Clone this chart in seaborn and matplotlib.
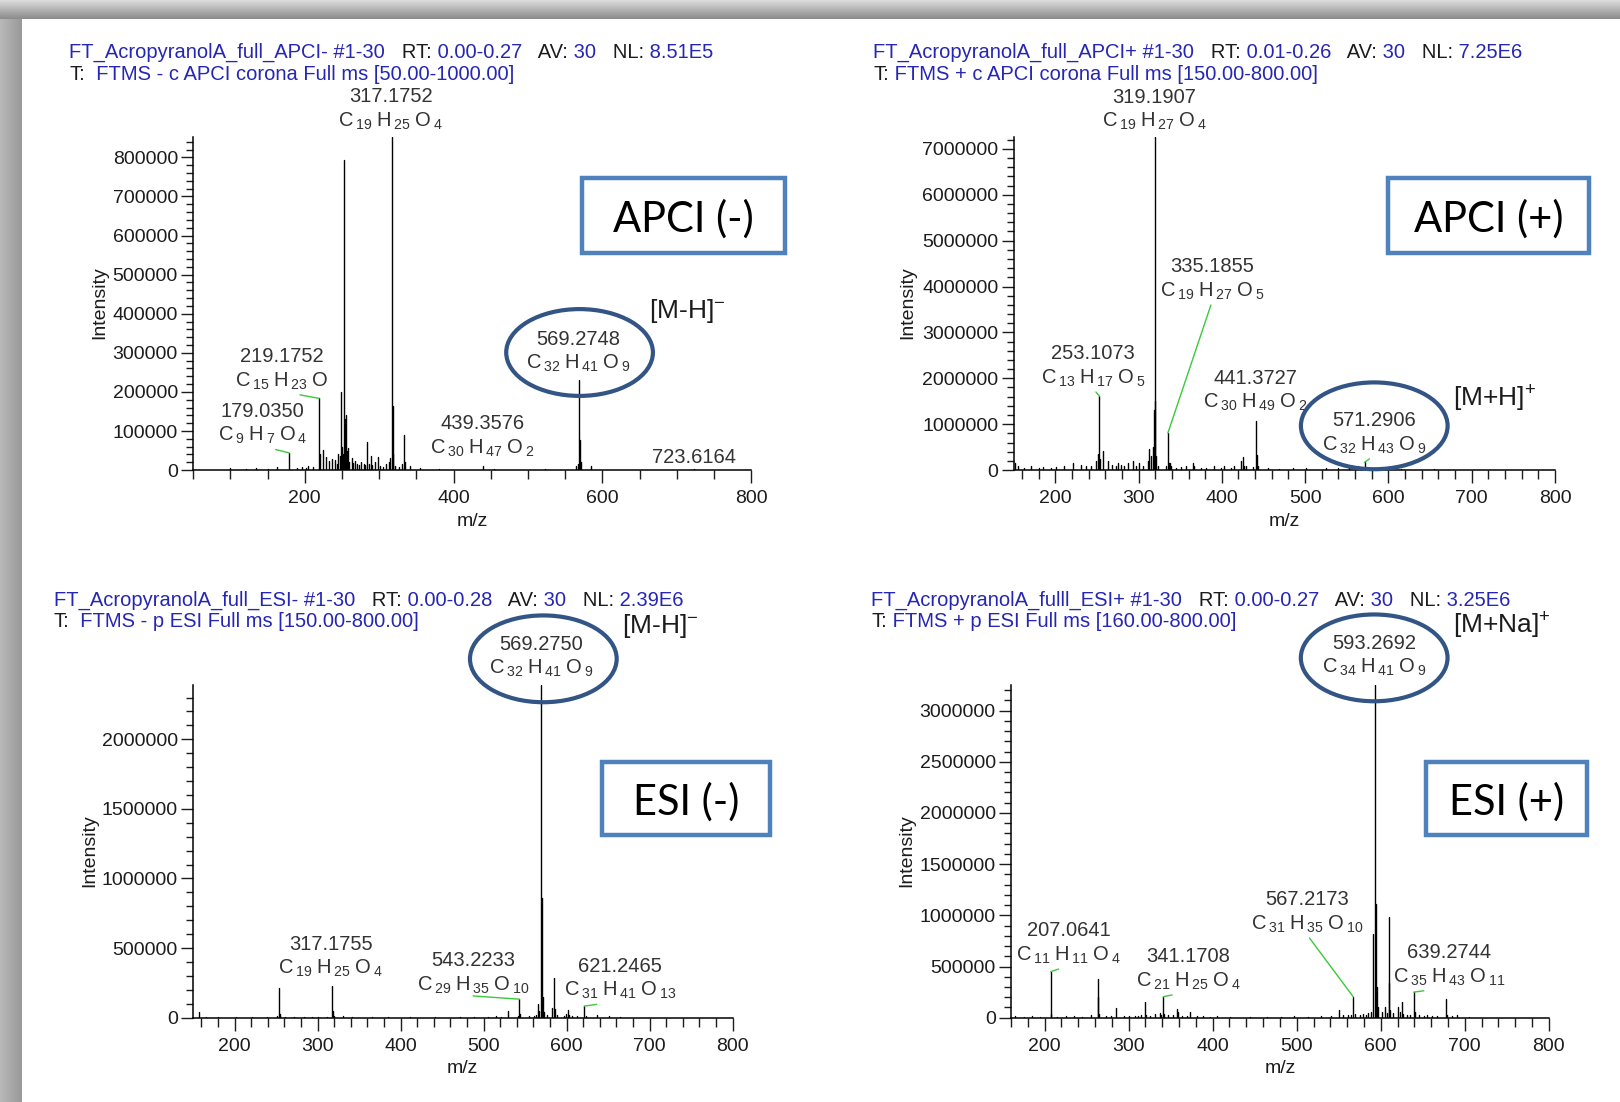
import re
import numpy as np
import pandas as pd
import seaborn as sns
import matplotlib.pyplot as plt
from matplotlib.patches import Ellipse, Rectangle
from matplotlib.ticker import MultipleLocator, ScalarFormatter
from matplotlib.transforms import ScaledTranslation

# ---- spectra (m/z, intensity) ----
apci_neg_mz = [100, 121, 135, 150, 163, 179.035, 190, 196, 201, 205,
               211, 219.1752, 220.18, 225, 229, 233, 237, 241, 243, 245,
               247, 249.15, 250.15, 251.15, 253.16, 254.16, 255.17, 256.17, 258, 260,
               263, 265, 267, 270, 273, 276, 279, 281, 283.17, 286,
               289, 291, 295, 299, 301, 305, 309, 313, 315.16, 317.1752,
               318.18, 319.18, 321, 327, 331, 333.17, 335, 341, 355, 381,
               439.3576, 455, 523, 565, 567, 569.2748, 570.28, 571.28, 585, 723.6164]
apci_neg_int = [5000, 3000, 5000, 3000, 8000, 44000, 5000, 8000, 6000, 10000,
                8000, 183500, 40000, 52000, 33000, 22000, 28000, 25000, 15000, 42000,
                35000, 201000, 60000, 40000, 793000, 130000, 141000, 50000, 56000, 20000,
                30000, 18000, 22000, 15000, 12000, 20000, 15000, 12000, 73000, 15000,
                36000, 12000, 20000, 33000, 10000, 8000, 15000, 20000, 30000, 851000,
                165000, 40000, 10000, 8000, 15000, 91000, 20000, 10000, 6000, 4000,
                10000, 3000, 3000, 10000, 15000, 231000, 78000, 20000, 10000, 2000]

apci_pos_mz = [152, 155, 163, 171, 180, 185, 195, 201, 211, 221,
               231, 237, 243, 249, 251, 253.1073, 254.11, 257, 263, 268,
               273, 275, 279, 283, 287, 293, 297, 301, 305, 311,
               313, 315, 317.18, 318.18, 319.1907, 320.19, 321.2, 323, 333, 335.1855,
               336.19, 337.19, 339, 345, 351, 357, 365, 367, 375, 381,
               391, 399, 403, 411, 415, 423, 425, 427, 429, 437,
               441.3727, 442.38, 443.38, 455, 469, 485, 501, 525, 539, 553,
               563, 571.2906, 573, 589, 615, 655]
apci_pos_int = [150000, 100000, 50000, 80000, 50000, 60000, 40000, 70000, 100000, 150000,
                120000, 80000, 100000, 200000, 360000, 1610000, 250000, 410000, 200000, 120000,
                100000, 150000, 120000, 100000, 150000, 200000, 100000, 150000, 100000, 200000,
                450000, 300000, 500000, 1320000, 7250000, 1510000, 300000, 100000, 100000, 806000,
                150000, 150000, 100000, 50000, 60000, 100000, 150000, 100000, 50000, 40000,
                80000, 50000, 100000, 50000, 100000, 200000, 280000, 100000, 80000, 60000,
                1070000, 320000, 100000, 40000, 30000, 50000, 40000, 50000, 40000, 60000,
                80000, 170000, 50000, 40000, 30000, 20000]

esi_neg_mz = [157, 165, 180, 201, 221, 239, 251, 253.1, 254.1, 255.1,
              261, 271, 283, 293, 301, 311, 317.1755, 318.18, 319.18, 331,
              341, 365, 385, 411, 441, 471, 489, 505, 515, 521,
              529, 541, 543.2233, 544.23, 555, 561, 563, 565, 567, 569.275,
              570.28, 571.28, 573, 577, 583, 585.27, 586.27, 589, 597, 599,
              601.27, 603, 607, 613, 621.2465, 623, 637, 651, 665]
esi_neg_int = [40000, 8000, 6000, 5000, 5000, 8000, 15000, 214000, 30000, 10000,
               8000, 5000, 8000, 6000, 5000, 8000, 231000, 50000, 10000, 15000,
               5000, 4000, 4000, 3000, 3000, 5000, 6000, 8000, 10000, 8000,
               50000, 15000, 133000, 30000, 10000, 15000, 20000, 96000, 50000, 2390000,
               863000, 150000, 40000, 20000, 70000, 284000, 60000, 20000, 15000, 30000,
               58000, 20000, 10000, 15000, 83000, 15000, 20000, 10000, 5000]

esi_pos_mz = [165, 175, 185, 195, 207.0641, 208.07, 215, 225, 235, 245,
              255, 263.1, 264.1, 265.1, 273, 279, 285, 295, 301, 307,
              311, 315, 319.1, 320.1, 325, 331, 337, 339, 341.1708, 342.17,
              347, 353, 357.15, 358.15, 363, 369, 373.1, 381, 389, 397,
              405, 421, 445, 465, 481, 497, 513, 529, 541, 550,
              555, 561, 565, 567.2173, 569, 575, 579, 583, 585, 589,
              591.27, 593.2692, 594.27, 595.27, 597, 601, 605, 607, 609.24, 610.25,
              611, 615, 620, 623, 625.2, 627, 631, 635, 639.2744, 641,
              645, 651, 655, 661, 667, 677.2, 679, 685, 691, 705]
esi_pos_int = [20000, 10000, 15000, 10000, 449000, 40000, 10000, 15000, 20000, 10000,
               30000, 377000, 200000, 40000, 15000, 20000, 96000, 15000, 20000, 15000,
               20000, 30000, 154000, 30000, 15000, 40000, 50000, 30000, 205000, 40000,
               25000, 30000, 86000, 60000, 20000, 15000, 55000, 15000, 20000, 10000,
               15000, 10000, 10000, 10000, 10000, 12000, 10000, 15000, 20000, 79000,
               30000, 25000, 30000, 205000, 40000, 30000, 40000, 30000, 50000, 60000,
               815000, 3250000, 1106000, 300000, 100000, 60000, 100000, 50000, 986000, 340000,
               80000, 50000, 100000, 60000, 154000, 40000, 30000, 30000, 250000, 60000,
               30000, 20000, 30000, 15000, 20000, 180000, 30000, 20000, 25000, 10000]

# ---- peak labels ----
apci_neg_masses = ['317.1752', '219.1752', '179.0350', '439.3576', '569.2748', '723.6164']
apci_neg_formulas = ['C19H25O4', 'C15H23O', 'C9H7O4', 'C30H47O2', 'C32H41O9', '']
apci_pos_masses = ['319.1907', '335.1855', '253.1073', '441.3727', '571.2906']
apci_pos_formulas = ['C19H27O4', 'C19H27O5', 'C13H17O5', 'C30H49O2', 'C32H43O9']
esi_neg_masses = ['569.2750', '317.1755', '543.2233', '621.2465']
esi_neg_formulas = ['C32H41O9', 'C19H25O4', 'C29H35O10', 'C31H41O13']
esi_pos_masses = ['593.2692', '207.0641', '341.1708', '567.2173', '639.2744']
esi_pos_formulas = ['C34H41O9', 'C11H11O4', 'C21H25O4', 'C31H35O10', 'C35H43O11']

BLUE = '#2626b4'
DARK = '#1c1c1c'
GREY = '#333333'
GREEN = '#3cc83c'
RING = '#325585'
BOXC = '#4f81bd'

panels = [
    dict(mz=apci_neg_mz, inten=apci_neg_int, masses=apci_neg_masses, formulas=apci_neg_formulas,
         xlim=(50, 800), ylim=(0, 851000), xt=(200, 50), yt=(100000, 20000),
         rect=(193.2, 137.4, 751.1, 470.1), ylab_x=-0.153,
         pos=[(315.3, 955100), (169.4, 290200), (143.1, 150400), (438.9, 118700),
              (568.1, 335100), (723.6, 31700)],
         lead=[False, True, True, False, False, False],
         ring=(569.4, 300800),
         head=(69, 52.5,
               [('FT_AcropyranolA_full_APCI- #1-30', BLUE), ('   RT:', DARK), (' 0.00-0.27', BLUE),
                ('   AV:', DARK), (' 30', BLUE), ('   NL:', DARK), (' 8.51E5', BLUE)],
               [('T:', DARK), ('  FTMS - c APCI corona Full ms [50.00-1000.00]', BLUE)]),
         ion=(649, 311, '[M-H]$^{-}$'),
         box=(581.7, 177.7, 785.2, 253.1, 'APCI (-)')),
    dict(mz=apci_pos_mz, inten=apci_pos_int, masses=apci_pos_masses, formulas=apci_pos_formulas,
         xlim=(150, 800), ylim=(0, 7250000), xt=(100, 20), yt=(1000000, 200000),
         rect=(1013.6, 137.4, 1555.0, 470.1), ylab_x=-0.180,
         pos=[(318.7, 8122000), (388.2, 4430000), (245.5, 2535000), (440.3, 1997000),
              (583.0, 1077000)],
         lead=[False, True, True, False, True],
         ring=(583.0, 965000),
         head=(873, 52.5,
               [('FT_AcropyranolA_full_APCI+ #1-30', BLUE), ('   RT:', DARK), (' 0.01-0.26', BLUE),
                ('   AV:', DARK), (' 30', BLUE), ('   NL:', DARK), (' 7.25E6', BLUE)],
               [('T:', DARK), (' FTMS + c APCI corona Full ms [150.00-800.00]', BLUE)]),
         ion=(1452.7, 398.8, '[M+H]$^{+}$'),
         box=(1387.6, 177.7, 1589.1, 253.1, 'APCI (+)')),
    dict(mz=esi_neg_mz, inten=esi_neg_int, masses=esi_neg_masses, formulas=esi_neg_formulas,
         xlim=(150, 800), ylim=(0, 2390000), xt=(100, 20), yt=(500000, 100000),
         rect=(193.2, 685.0, 732.5, 1017.7), ylab_x=-0.176,
         pos=[(569.5, 2681000), (315.6, 525900), (487.4, 407400), (664.1, 370400)],
         lead=[False, False, True, True],
         ring=(572.0, 2578000),
         head=(53.7, 600.1,
               [('FT_AcropyranolA_full_ESI- #1-30', BLUE), ('   RT:', DARK), (' 0.00-0.28', BLUE),
                ('   AV:', DARK), (' 30', BLUE), ('   NL:', DARK), (' 2.39E6', BLUE)],
               [('T:', DARK), ('  FTMS - p ESI Full ms [150.00-800.00]', BLUE)]),
         ion=(622, 626, '[M-H]$^{-}$'),
         box=(602.4, 761.5, 769.7, 834.8, 'ESI (-)')),
    dict(mz=esi_pos_mz, inten=esi_pos_int, masses=esi_pos_masses, formulas=esi_pos_formulas,
         xlim=(160, 800), ylim=(0, 3250000), xt=(100, 20), yt=(500000, 100000),
         rect=(1011.0, 685.0, 1548.8, 1017.7), ylab_x=-0.178,
         pos=[(592.2, 3657000), (228.3, 848500), (370.9, 596000), (512.3, 1152000),
              (681.0, 636400)],
         lead=[False, True, True, True, True],
         ring=(592.2, 3515000),
         head=(871, 600.1,
               [('FT_AcropyranolA_fulll_ESI+ #1-30', BLUE), ('   RT:', DARK), (' 0.00-0.27', BLUE),
                ('   AV:', DARK), (' 30', BLUE), ('   NL:', DARK), (' 3.25E6', BLUE)],
               [('T:', DARK), (' FTMS + p ESI Full ms [160.00-800.00]', BLUE)]),
         ion=(1452.7, 626, '[M+Na]$^{+}$'),
         box=(1425.8, 761.5, 1587.0, 834.8, 'ESI (+)')),
]


def chem(f):
    parts = re.findall(r'([A-Z][a-z]?)(\d*)', f)
    s = r'\;'.join((r'\mathrm{%s\,}_{%s}' % (el, n)) if n else r'\mathrm{%s}' % el
                   for el, n in parts)
    return '$' + s + '$'


def sticks(mz, inten):
    n = len(mz)
    return pd.DataFrame({
        'mz': np.repeat(mz, 2),
        'intensity': np.column_stack([np.zeros(n), inten]).ravel(),
        'peak': np.repeat(np.arange(n), 2),
    })


sns.set_style('ticks')
plt.rcParams['font.family'] = ['Liberation Sans', 'DejaVu Sans']
plt.rcParams['mathtext.fontset'] = 'custom'
plt.rcParams['mathtext.rm'] = 'Liberation Sans'
plt.rcParams['mathtext.it'] = 'Liberation Sans:italic'
plt.rcParams['mathtext.bf'] = 'Liberation Sans:bold'
plt.rcParams['mathtext.default'] = 'rm'

W, H = 1620, 1102
fig = plt.figure(figsize=(W / 100, H / 100), dpi=100)
fig.patch.set_facecolor('#a8a8a8')

# page background with the grey shadow frame
bg = fig.add_axes([0, 0, 1, 1])
bg.axis('off')
bg.imshow(np.linspace(0.86, 0.55, 20)[:, None], cmap='gray', vmin=0, vmax=1,
          extent=(0, W, 19, 0), aspect='auto')
bg.imshow(np.linspace(0.72, 0.6, 22)[None, :], cmap='gray', vmin=0, vmax=1,
          extent=(0, 22, H, 19), aspect='auto')
bg.add_patch(Rectangle((22, 19), W - 22, H - 19, fc='white', ec='none'))
bg.set_xlim(0, W)
bg.set_ylim(H, 0)


def header_line(x, y, parts, size=14.5):
    t = bg.text(x, y, parts[0][0], color=parts[0][1], fontsize=size, ha='left', va='center')
    for s, c in parts[1:]:
        t = bg.annotate(s, xycoords=t, xy=(1, 0), ha='left', va='bottom', color=c, fontsize=size)


for p in panels:
    l, t, r, b = p['rect']
    ax = fig.add_axes([l / W, 1 - b / H, (r - l) / W, (b - t) / H])
    ax.set_facecolor('none')

    sns.lineplot(data=sticks(p['mz'], p['inten']), x='mz', y='intensity', units='peak',
                 estimator=None, sort=False, color='black', linewidth=1.0, ax=ax)

    ax.set_xlim(*p['xlim'])
    ax.set_ylim(*p['ylim'])
    ax.xaxis.set_major_locator(MultipleLocator(p['xt'][0]))
    ax.xaxis.set_minor_locator(MultipleLocator(p['xt'][1]))
    ax.yaxis.set_major_locator(MultipleLocator(p['yt'][0]))
    ax.yaxis.set_minor_locator(MultipleLocator(p['yt'][1]))
    fmt = ScalarFormatter(useOffset=False)
    fmt.set_scientific(False)
    ax.yaxis.set_major_formatter(fmt)

    ax.tick_params(which='both', direction='out', colors=DARK, labelsize=14, width=1.0)
    ax.tick_params(axis='x', which='major', length=9.5, pad=5)
    ax.tick_params(axis='x', which='minor', length=6.5)
    ax.tick_params(axis='y', which='major', length=8.5, pad=2.5)
    ax.tick_params(axis='y', which='minor', length=4.8)
    sns.despine(ax=ax)
    for sp in ('left', 'bottom'):
        ax.spines[sp].set_color('black')
        ax.spines[sp].set_linewidth(1.1)

    ax.set_xlabel('m/z', fontsize=14, color=DARK)
    ax.set_ylabel('Intensity', fontsize=14, color=DARK)
    ax.xaxis.set_label_coords(0.5, -0.128)
    ax.yaxis.set_label_coords(p['ylab_x'], 0.503)

    # peak labels with green leaders from the formula to the peak top
    mz_arr = np.asarray(p['mz'])
    drop = ax.transData + ScaledTranslation(0, -17.5 / 72, fig.dpi_scale_trans)
    for mass, form, (lx, ly), lead in zip(p['masses'], p['formulas'], p['pos'], p['lead']):
        k = int(np.argmin(np.abs(mz_arr - float(mass))))
        ax.text(lx, ly, mass, ha='center', va='center', fontsize=14.5, color=GREY, clip_on=False)
        if form:
            arrow = dict(arrowstyle='-', color=GREEN, lw=1.0, shrinkA=0, shrinkB=0,
                         relpos=(0.5, 0)) if lead else None
            ax.annotate(chem(form), xy=(p['mz'][k], p['inten'][k]), xycoords='data',
                        xytext=(lx, ly), textcoords=drop, ha='center', va='center',
                        fontsize=14.5, color=GREY, arrowprops=arrow, annotation_clip=False)

    # ring around the molecular ion, size given in pixels
    sx = (p['xlim'][1] - p['xlim'][0]) / (r - l)
    sy = (p['ylim'][1] - p['ylim'][0]) / (b - t)
    ax.add_patch(Ellipse(p['ring'], 146.7 * sx, 86.8 * sy, fill=False, ec=RING,
                         lw=3.0, clip_on=False, zorder=5))
    ax.set_xlim(*p['xlim'])
    ax.set_ylim(*p['ylim'])

    hx, hy, line1, line2 = p['head']
    header_line(hx, hy, line1)
    header_line(hx, hy + 21.7, line2)

    ix, iy, ion = p['ion']
    bg.text(ix, iy, ion, ha='left', va='center', fontsize=19, color=DARK)

    x0, y0, x1, y1, label = p['box']
    bg.add_patch(Rectangle((x0, y0), x1 - x0, y1 - y0, fill=False, ec=BOXC, lw=3.2))
    bg.text((x0 + x1) / 2, (y0 + y1) / 2 + 3.5, label, ha='center', va='center',
            fontsize=30, family=['Lato', 'DejaVu Sans'], color='black')

fig.savefig('out.png', dpi=100)
